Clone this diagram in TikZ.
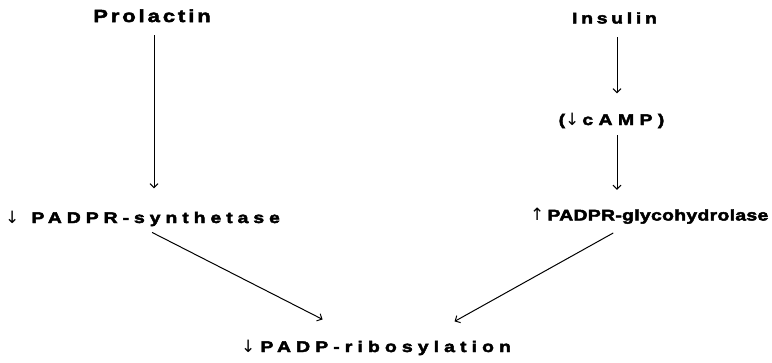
\documentclass[tikz,border=0pt]{standalone}
\usepackage{fontspec}
\usetikzlibrary{arrows.meta}
% heavy, wide, letter-spaced label face and a plain face for the arrows in the labels
\newfontfamily\heavy{Liberation Sans Bold}[FakeBold=3, FakeStretch=1.25]
\newfontfamily\arrowfont{DejaVu Sans}
\newcommand{\dn}{{\arrowfont\fontsize{17}{17}\selectfont ↓}}
\newcommand{\up}{{\arrowfont\fontsize{17}{17}\selectfont ↑}}
\tikzset{
  lab/.style 2 args={inner sep=0pt,
    font=\fontsize{#1}{#1}\heavy\addfontfeatures{LetterSpace=#2}},
  arr/.style={-{Straight Barb[length=4pt,width=8pt]}, line width=1pt},
}
\begin{document}
\begin{tikzpicture}[x=1pt,y=-1pt]
  \useasboundingbox (0,0) rectangle (772,362);
  % labels, placed by baseline
  \node[lab={17.5}{17}, anchor=base] (prol) at (152,22) {Prolactin};
  \node[lab={15.5}{24}, anchor=base] (ins) at (614.5,23.5) {Insulin};
  \node[lab={15.5}{35}, anchor=base] (camp) at (611.5,125) {(\dn\hspace{3pt}cAMP)};
  \node[lab={15.5}{32}, anchor=base west] (synth) at (5,223) {\dn\hspace{12pt}PADPR-synthetase};
  \node[lab={15.5}{2}, anchor=base west] (glyco) at (530,220.5) {\up\hspace{3pt}PADPR-glycohydrolase};
  \node[lab={15.5}{33}, anchor=base west] (ribo) at (241,352) {\dn\hspace{5pt}PADP-ribosylation};
  % connectors
  \draw[arr, shorten <=13pt, shorten >=22pt] ([xshift=2pt]prol.south) -- ([xshift=2pt]prol.south |- synth.north);
  \draw[arr, shorten <=13.5pt, shorten >=19pt] ([xshift=2.5pt]ins.south) -- ([xshift=2.5pt]ins.south |- camp.north);
  \draw[arr, shorten <=7pt, shorten >=18pt] ([xshift=2.5pt]ins.south |- camp.south) -- ([xshift=2.5pt]ins.south |- glyco.north);
  \draw[arr] ([shift={(9.5,6)}]synth.south) -- ([shift={(-53.5,-20)}]ribo.north);
  \draw[arr] ([shift={(-36,9)}]glyco.south) -- ([shift={(78.5,-18)}]ribo.north);
\end{tikzpicture}
\end{document}
